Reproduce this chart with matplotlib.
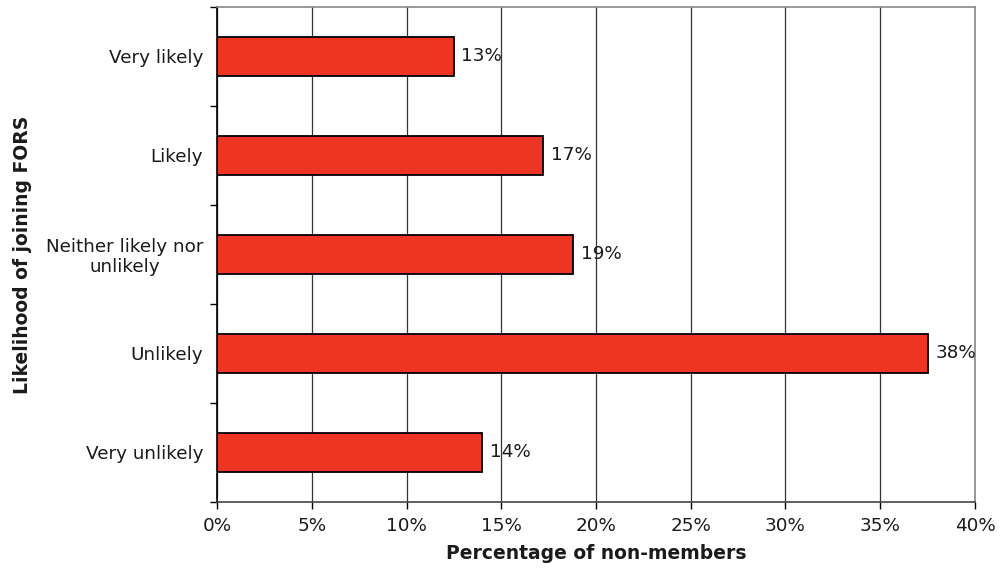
import matplotlib
matplotlib.use("Agg")
import matplotlib.pyplot as plt
import numpy as np

categories = ["Very likely", "Likely", "Neither likely nor\nunlikely", "Unlikely", "Very unlikely"]
values = [12.5, 17.2, 18.8, 37.5, 14.0]
value_labels = ["13%", "17%", "19%", "38%", "14%"]
xticks = [0, 5, 10, 15, 20, 25, 30, 35, 40]

plt.rcParams['font.family'] = ['DejaVu Sans']
txt = "#1a1a1a"

fig = plt.figure(figsize=(10.01, 5.71), dpi=100)
ax = fig.add_axes([0.2168, 0.121, 0.7572, 0.867])

y = np.arange(len(categories))
ax.barh(y, values, height=0.4, color="#EE3524", edgecolor="black", linewidth=1.3, zorder=3)
for yi, v, lab in zip(y, values, value_labels):
    ax.text(v + 0.4, yi, lab, va="center", ha="left", fontsize=13.2, color=txt, zorder=4)

ax.set_xlim(0, 40)
ax.set_ylim(len(categories) - 0.5, -0.5)
ax.set_xticks(xticks)
ax.set_xticklabels([f"{t}%" for t in xticks], fontsize=13.2, color=txt)
ax.set_yticks(y)
ax.set_yticklabels(categories, fontsize=13.2, color=txt, multialignment="center", linespacing=1.1)
ax.set_yticks(np.arange(-0.5, len(categories)), minor=True)
ax.tick_params(axis="y", which="major", length=0, pad=10)
ax.tick_params(axis="y", which="minor", length=5, width=1, direction="out")
ax.tick_params(axis="x", length=5, width=1, direction="out", pad=6)

ax.grid(axis="x", color="#333333", linewidth=0.9, zorder=0)
for s in ["top", "right"]:
    ax.spines[s].set_color("#888888")
ax.spines["bottom"].set_color("#444444")
ax.spines["left"].set_color("black")
for s in ax.spines.values():
    s.set_linewidth(1.2)

ax.set_xlabel("Percentage of non-members", fontsize=13.5, fontweight="bold", labelpad=6, color=txt)
ax.set_ylabel("Likelihood of joining FORS", fontsize=13.5, fontweight="bold", labelpad=10, color=txt)

fig.savefig("out.png", dpi=100)
